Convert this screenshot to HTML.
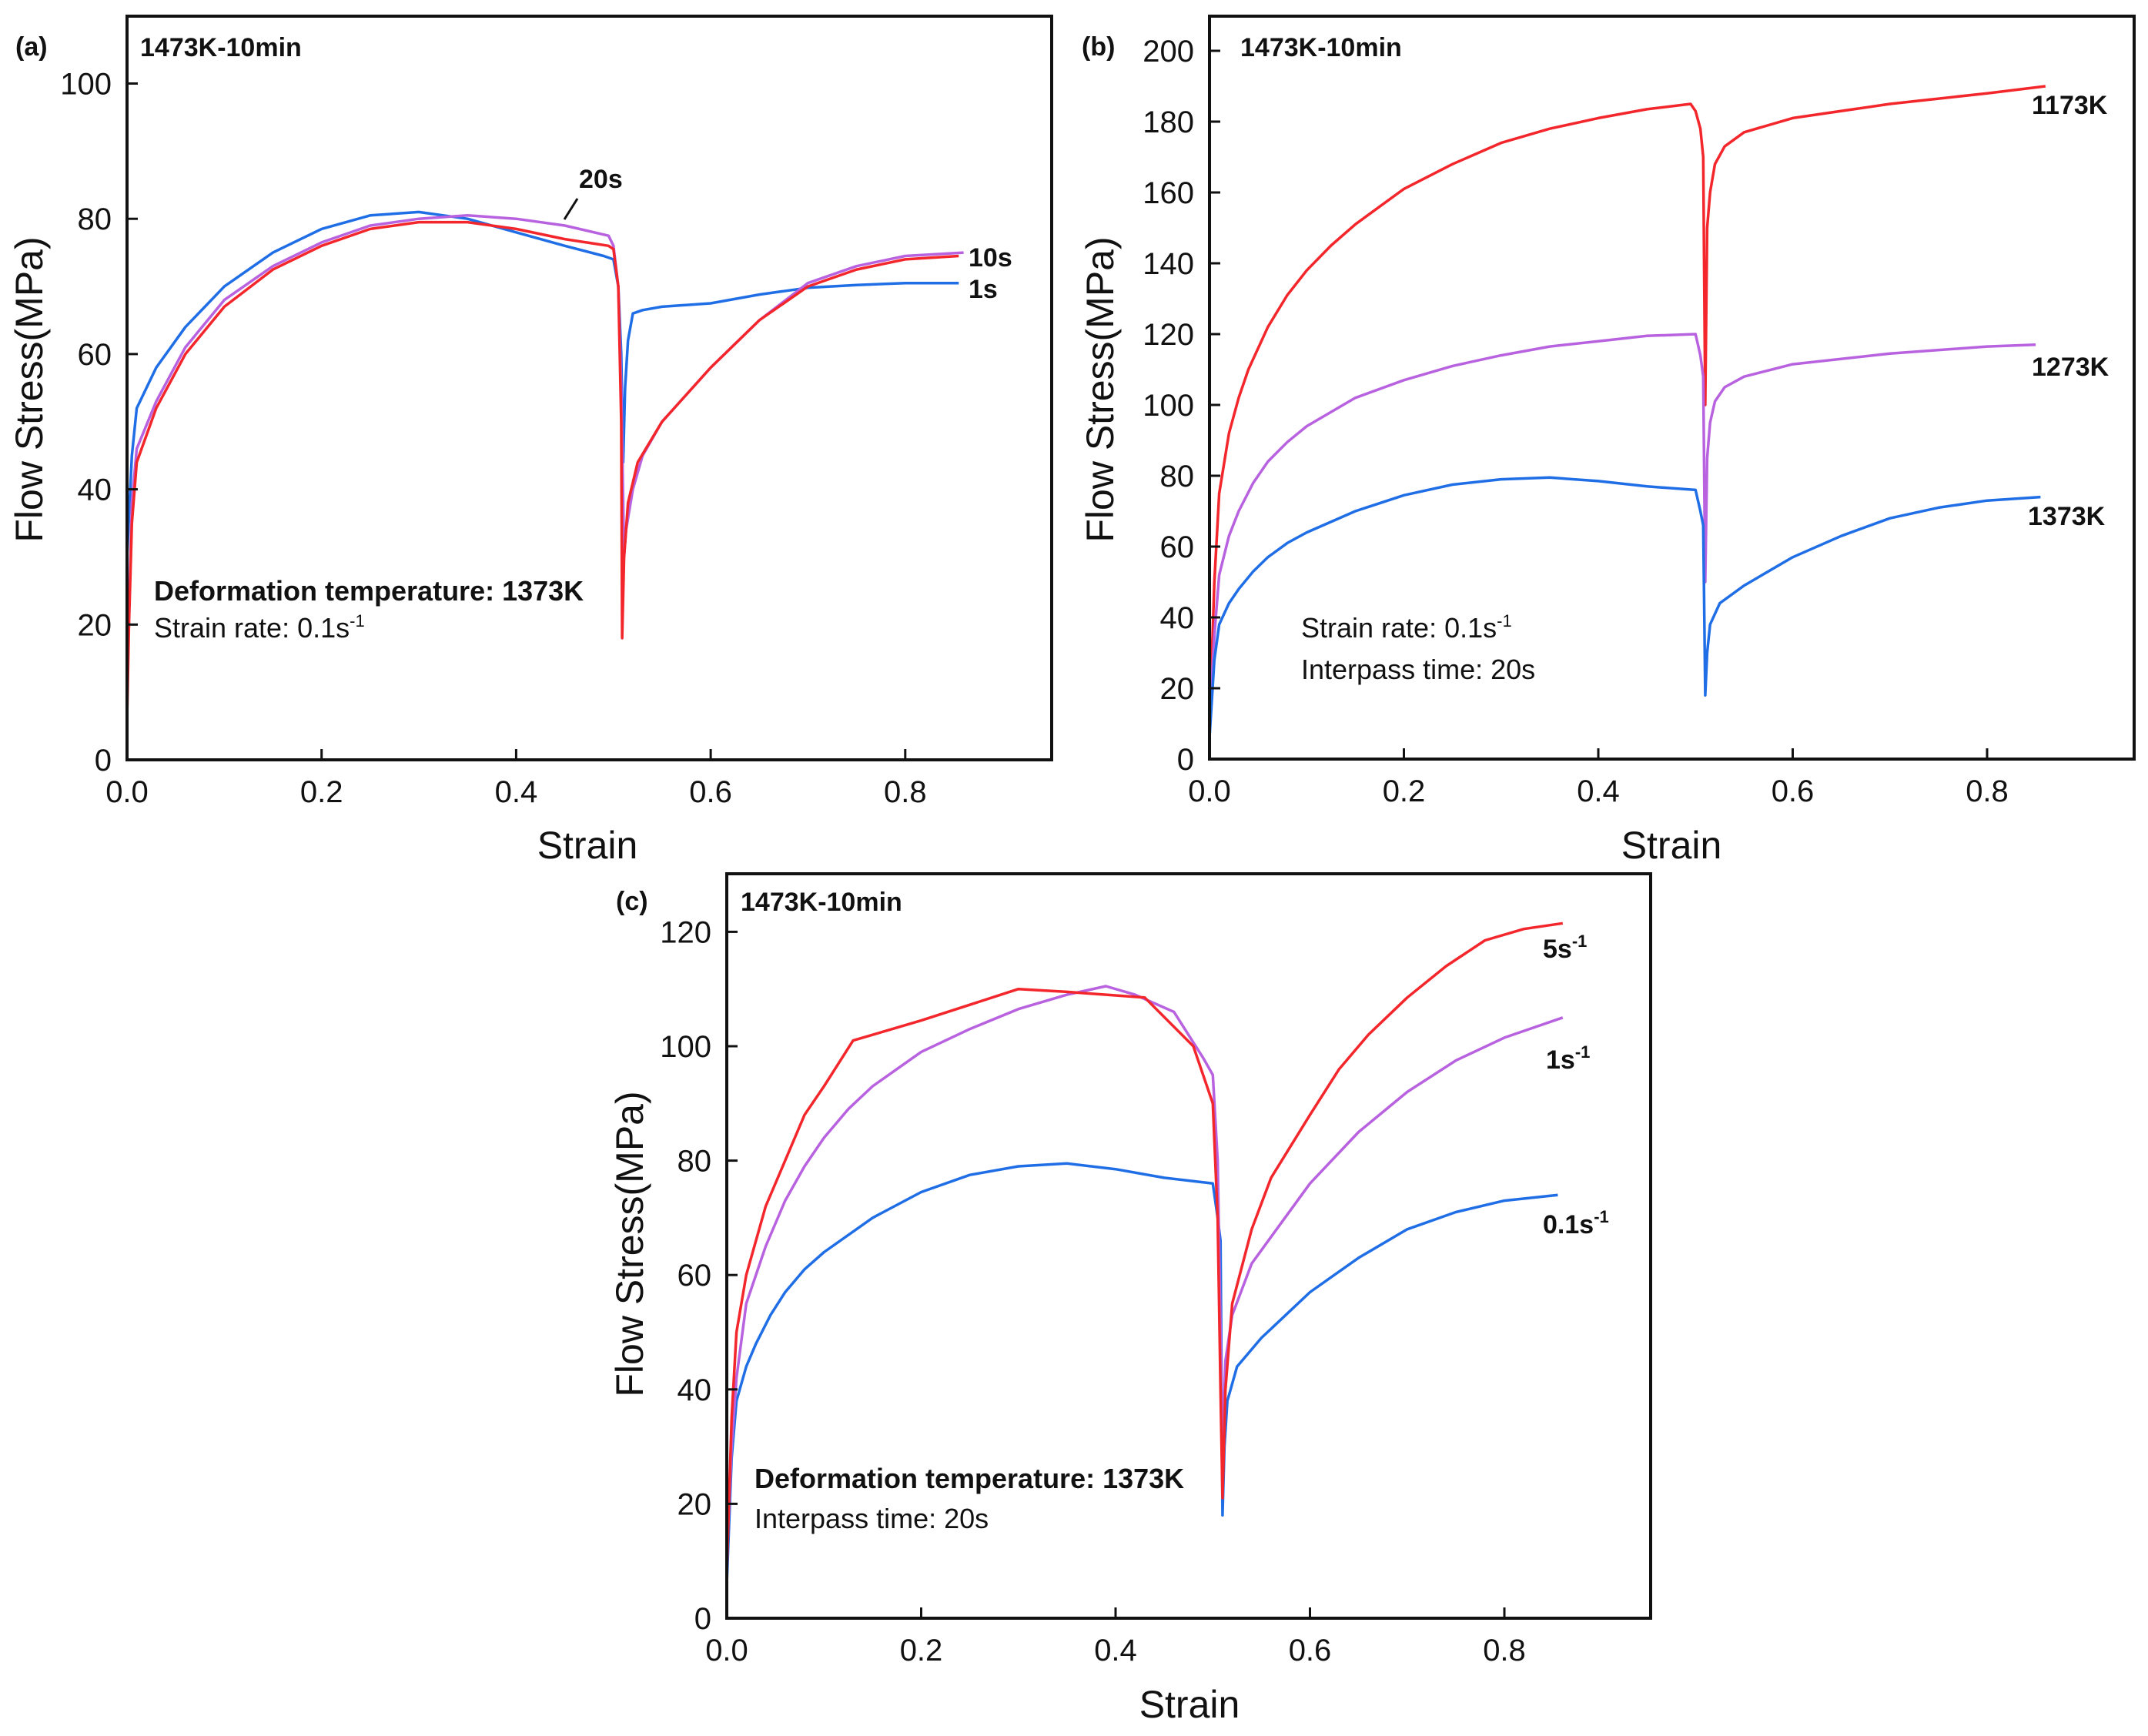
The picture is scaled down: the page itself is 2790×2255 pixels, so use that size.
<!DOCTYPE html>
<html><head><meta charset="utf-8"><style>
html,body{margin:0;padding:0;background:#fff;}
svg{display:block;font-family:"Liberation Sans",Arial,sans-serif;}
.tick{font-size:40px;fill:#111;}
.title{font-size:50px;fill:#111;}
.lbl{font-size:34px;font-weight:bold;fill:#111;}
.note{font-size:36px;fill:#111;}
</style></head><body>
<svg id="chart" width="2790" height="2255" viewBox="0 0 2790 2255"></svg>
<script>
// ---- data (strain, stress MPa) ----
const a1s=[[0,30],[0.005,45],[0.01,52],[0.03,58],[0.06,64],[0.1,70],[0.15,75],[0.2,78.5],[0.25,80.5],[0.3,81],[0.35,80],[0.4,78],[0.45,76],[0.49,74.5],[0.5,74],[0.505,70],[0.508,60],[0.51,44],[0.512,55],[0.515,62],[0.52,66],[0.53,66.5],[0.55,67],[0.6,67.5],[0.65,68.8],[0.7,69.8],[0.75,70.2],[0.8,70.5],[0.855,70.5]];
const a10s=[[0,6],[0.002,20],[0.005,35],[0.01,44],[0.03,52],[0.06,60],[0.1,67],[0.15,72.5],[0.2,76],[0.25,78.5],[0.3,79.5],[0.35,79.5],[0.4,78.5],[0.45,77],[0.495,76],[0.5,75.5],[0.505,70],[0.508,50],[0.509,18],[0.511,30],[0.515,38],[0.525,44],[0.55,50],[0.6,58],[0.65,65],[0.7,70],[0.75,72.5],[0.8,74],[0.855,74.5]];
const a20s=[[0,10],[0.005,38],[0.01,46],[0.03,53],[0.06,61],[0.1,68],[0.15,73],[0.2,76.5],[0.25,79],[0.3,80],[0.35,80.5],[0.4,80],[0.45,79],[0.495,77.5],[0.5,76],[0.505,70],[0.508,55],[0.511,30],[0.513,34],[0.52,40],[0.53,45],[0.55,50],[0.6,58],[0.65,65],[0.7,70.5],[0.75,73],[0.8,74.5],[0.86,75]];
const b1173=[[0,8],[0.005,50],[0.01,75],[0.02,92],[0.03,102],[0.04,110],[0.06,122],[0.08,131],[0.1,138],[0.125,145],[0.15,151],[0.2,161],[0.25,168],[0.3,174],[0.35,178],[0.4,181],[0.45,183.5],[0.495,185],[0.5,183],[0.505,178],[0.508,170],[0.51,100],[0.512,150],[0.515,160],[0.52,168],[0.53,173],[0.55,177],[0.6,181],[0.7,185],[0.8,188],[0.86,190]];
const b1273=[[0,10],[0.005,35],[0.01,52],[0.02,63],[0.03,70],[0.045,78],[0.06,84],[0.08,89.5],[0.1,94],[0.15,102],[0.2,107],[0.25,111],[0.3,114],[0.35,116.5],[0.4,118],[0.45,119.5],[0.5,120],[0.505,114],[0.508,108],[0.51,50],[0.512,85],[0.515,95],[0.52,101],[0.53,105],[0.55,108],[0.6,111.5],[0.7,114.5],[0.8,116.5],[0.85,117]];
const b1373=[[0,6],[0.005,28],[0.01,38],[0.02,44],[0.03,48],[0.045,53],[0.06,57],[0.08,61],[0.1,64],[0.15,70],[0.2,74.5],[0.25,77.5],[0.3,79],[0.35,79.5],[0.4,78.5],[0.45,77],[0.5,76],[0.505,70],[0.508,66],[0.51,18],[0.512,30],[0.515,38],[0.525,44],[0.55,49],[0.6,57],[0.65,63],[0.7,68],[0.75,71],[0.8,73],[0.855,74]];
const c5=[[0,8],[0.005,35],[0.01,50],[0.02,60],[0.04,72],[0.06,80],[0.08,88],[0.1,93],[0.13,101],[0.2,104.5],[0.3,110],[0.35,109.5],[0.43,108.5],[0.48,100],[0.5,90],[0.505,70],[0.508,40],[0.51,21],[0.513,40],[0.52,55],[0.54,68],[0.56,77],[0.6,88],[0.63,96],[0.66,102],[0.7,108.5],[0.74,114],[0.78,118.5],[0.82,120.5],[0.86,121.5]];
const c1=[[0,10],[0.005,30],[0.01,42],[0.02,55],[0.04,65],[0.06,73],[0.08,79],[0.1,84],[0.125,89],[0.15,93],[0.2,99],[0.25,103],[0.3,106.5],[0.35,109],[0.39,110.5],[0.42,109],[0.46,106],[0.49,98],[0.5,95],[0.505,80],[0.51,30],[0.513,45],[0.52,53],[0.54,62],[0.57,69],[0.6,76],[0.65,85],[0.7,92],[0.75,97.5],[0.8,101.5],[0.86,105]];
const c01=[[0,6],[0.005,28],[0.01,38],[0.02,44],[0.03,48],[0.045,53],[0.06,57],[0.08,61],[0.1,64],[0.15,70],[0.2,74.5],[0.25,77.5],[0.3,79],[0.35,79.5],[0.4,78.5],[0.45,77],[0.5,76],[0.505,70],[0.508,66],[0.51,18],[0.512,30],[0.515,38],[0.525,44],[0.55,49],[0.6,57],[0.65,63],[0.7,68],[0.75,71],[0.8,73],[0.855,74]];
const xTicks=[0,0.2,0.4,0.6,0.8];
const xTickLabels=["0.0","0.2","0.4","0.6","0.8"];
const aYTicks=[0,20,40,60,80,100];
const bYTicks=[0,20,40,60,80,100,120,140,160,180,200];
const cYTicks=[0,20,40,60,80,100,120];

const BLUE="#1f6ee6",RED="#f2262b",PURPLE="#b862e0";
const svg=document.getElementById('chart');
const NS="http://www.w3.org/2000/svg";
function mk(tag,attrs,parent,text){const e=document.createElementNS(NS,tag);for(const k in attrs)e.setAttribute(k,attrs[k]);if(text!==undefined)e.textContent=text;(parent||svg).appendChild(e);return e;}

function panel(cfg){
  const g=mk('g',{});
  
  
  const sx=v=>cfg.x0+v/0.2*cfg.px02;
  const sy=v=>cfg.y0-v/cfg.yStep*cfg.pyStep;
  cfg.series.forEach(s=>{
    const p=mk('polyline',{points:s.data.map(d=>sx(d[0]).toFixed(1)+','+sy(d[1]).toFixed(1)).join(' '),fill:'none',stroke:s.color,'stroke-width':3.5,'stroke-linejoin':'round'},g);
    
    
  });
  const f=mk('rect',{x:cfg.x0,y:cfg.top,width:cfg.right-cfg.x0,height:cfg.y0-cfg.top,fill:'none',stroke:'#111','stroke-width':4},g);
  
  
  xTicks.forEach((t,i)=>{
    mk('line',{x1:sx(t),x2:sx(t),y1:cfg.y0,y2:cfg.y0-14,stroke:'#111','stroke-width':3},g);
    const tx=mk('text',{x:sx(t),y:cfg.y0+55,'text-anchor':'middle',class:'tick'},g,xTickLabels[i]);
    
    
  });
  cfg.yTicks.forEach(t=>{
    mk('line',{x1:cfg.x0,x2:cfg.x0+14,y1:sy(t),y2:sy(t),stroke:'#111','stroke-width':3},g);
    const ty=mk('text',{x:cfg.x0-20,y:sy(t)+14,'text-anchor':'end',class:'tick'},g,String(t));
    
    
  });
  const xt=mk('text',{x:cfg.xtx,y:cfg.xty,'text-anchor':'middle',class:'title'},g,'Strain');
  
  
  const yt=mk('text',{x:0,y:0,'text-anchor':'middle',class:'title',transform:`translate(${cfg.ytx},${cfg.yty}) rotate(-90)`},g,'Flow Stress(MPa)');
  
  
  cfg.labels.forEach(l=>{
    const t=mk('text',{x:l.x,y:l.y,class:l.cls||'lbl'},g);
    if(l.bold) t.setAttribute('font-weight','bold');
    
    
    t.innerHTML=l.t;
  });
  return g;
}
const sup='<tspan font-size="22" dy="-14">-1</tspan>';
panel({name:'panel-a',x0:165,right:1366,top:21,y0:987,px02:252.7,yStep:20,pyStep:175.7,yTicks:aYTicks,
  xtx:763,xty:1115,ytx:55,yty:506,
  series:[{name:'curve-1s',data:a1s,color:BLUE},{name:'curve-20s',data:a20s,color:PURPLE},{name:'curve-10s',data:a10s,color:RED}],
  labels:[{name:'panel-label-a',x:20,y:72,t:'(a)'},{name:'condition-label',x:182,y:73,t:'1473K-10min'},
    {name:'label-20s',x:752,y:244,t:'20s'},{name:'label-10s',x:1258,y:346,t:'10s'},{name:'label-1s',x:1258,y:387,t:'1s'},
    {name:'note-temperature',x:200,y:780,t:'Deformation temperature: 1373K',cls:'note',bold:true},
    {name:'note-strain-rate',x:200,y:828,t:'Strain rate: 0.1s'+sup,cls:'note'}]});
mk('line',{x1:750,y1:258,x2:733,y2:285,stroke:'#111','stroke-width':3});
panel({name:'panel-b',x0:1571,right:2772,top:21,y0:986,px02:252.5,yStep:20,pyStep:92,yTicks:bYTicks,
  xtx:2171,xty:1115,ytx:1446,yty:506,
  series:[{name:'curve-1173K',data:b1173,color:RED},{name:'curve-1273K',data:b1273,color:PURPLE},{name:'curve-1373K',data:b1373,color:BLUE}],
  labels:[{name:'panel-label-b',x:1405,y:72,t:'(b)'},{name:'condition-label',x:1611,y:73,t:'1473K-10min'},
    {name:'label-1173K',x:2639,y:148,t:'1173K'},{name:'label-1273K',x:2639,y:488,t:'1273K'},{name:'label-1373K',x:2634,y:682,t:'1373K'},
    {name:'note-strain-rate',x:1690,y:828,t:'Strain rate: 0.1s'+sup,cls:'note'},
    {name:'note-interpass',x:1690,y:882,t:'Interpass time: 20s',cls:'note'}]});
panel({name:'panel-c',x0:944,right:2144,top:1135,y0:2102,px02:252.5,yStep:20,pyStep:148.6,yTicks:cYTicks,
  xtx:1545,xty:2231,ytx:835,yty:1616,
  series:[{name:'curve-0.1s-1',data:c01,color:BLUE},{name:'curve-1s-1',data:c1,color:PURPLE},{name:'curve-5s-1',data:c5,color:RED}],
  labels:[{name:'panel-label-c',x:800,y:1182,t:'(c)'},{name:'condition-label',x:962,y:1183,t:'1473K-10min'},
    {name:'label-5s-1',x:2004,y:1244,t:'5s'+sup},{name:'label-1s-1',x:2008,y:1388,t:'1s'+sup},{name:'label-0.1s-1',x:2004,y:1602,t:'0.1s'+sup},
    {name:'note-temperature',x:980,y:1933,t:'Deformation temperature: 1373K',cls:'note',bold:true},
    {name:'note-interpass',x:980,y:1985,t:'Interpass time: 20s',cls:'note'}]});
</script>
</body></html>
